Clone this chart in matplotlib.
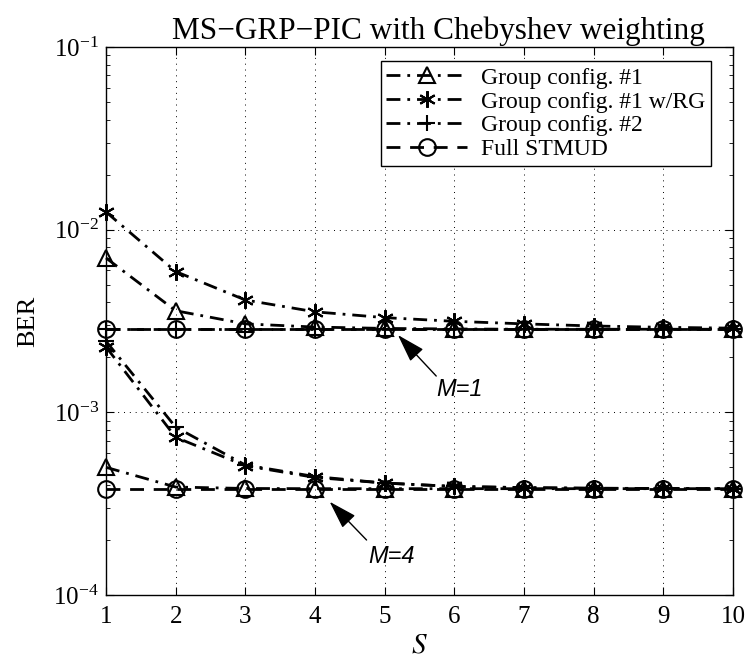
import numpy as np
import matplotlib.pyplot as plt

S = np.arange(1, 11)

# M = 1
full_m1 = [2.85e-3] * 10
g1_m1 = [7.0e-3, 3.6e-3, 3.05e-3, 2.93e-3, 2.88e-3, 2.86e-3, 2.85e-3, 2.85e-3, 2.85e-3, 2.85e-3]
g1rg_m1 = [1.25e-2, 5.9e-3, 4.12e-3, 3.55e-3, 3.3e-3, 3.15e-3, 3.05e-3, 2.97e-3, 2.92e-3, 2.89e-3]
g2_m1 = [2.85e-3] * 10

# M = 4
full_m4 = [3.82e-4] * 10
g1_m4 = [5.0e-4, 3.9e-4, 3.83e-4, 3.82e-4, 3.82e-4, 3.82e-4, 3.82e-4, 3.82e-4, 3.82e-4, 3.82e-4]
g1rg_m4 = [2.28e-3, 7.3e-4, 5.1e-4, 4.4e-4, 4.1e-4, 3.93e-4, 3.87e-4, 3.84e-4, 3.83e-4, 3.82e-4]
g2_m4 = [2.45e-3, 8.3e-4, 5.15e-4, 4.45e-4, 4.1e-4, 3.93e-4, 3.87e-4, 3.84e-4, 3.83e-4, 3.82e-4]

labels = ['Group config. #1', 'Group config. #1 w/RG', 'Group config. #2', 'Full STMUD']

plt.rcParams['font.family'] = 'Liberation Serif'
plt.rcParams['mathtext.fontset'] = 'stix'

fig = plt.figure(figsize=(7.46, 6.62), dpi=100)
ax = fig.add_axes([0.1421, 0.1012, 0.8405, 0.8278])

mk = dict(color='k', lw=2.0, ms=12, mfc='none', mew=1.5, clip_on=False)
dd = (0, (5, 2.5, 1, 2.5))
dash = (0, (5, 3.5))
star = (6, 2, 0)
ax.plot(S, g1_m1, linestyle=dd, marker='^', label=labels[0], **mk)
ax.plot(S, g1rg_m1, linestyle=dd, marker=star, label=labels[1], **mk)
ax.plot(S, g2_m1, linestyle=dd, marker='+', label=labels[2], **mk)
ax.plot(S, full_m1, linestyle=dash, marker='o', label=labels[3], **mk)

ax.plot(S, g1_m4, linestyle=dd, marker='^', **mk)
ax.plot(S, g1rg_m4, linestyle=dd, marker=star, **mk)
ax.plot(S, g2_m4, linestyle=dd, marker='+', **mk)
ax.plot(S, full_m4, linestyle=dash, marker='o', **mk)

ax.set_yscale('log')
ax.set_xlim(1, 10)
ax.set_ylim(1e-4, 1e-1)
ax.set_xticks(S)
ax.grid(True, which='major', linestyle=(0, (1, 5)), color='k', lw=0.7)
ax.tick_params(which='both', direction='in', top=True, right=True, labelsize=18)
ax.tick_params(which='major', length=6, pad=5)
ax.tick_params(axis='x', which='major', pad=8)
ax.tick_params(which='minor', length=3)
for sp in ax.spines.values():
    sp.set_linewidth(1.0)

ax.set_xlabel('$S$', fontsize=21, labelpad=3)
ax.set_ylabel('BER', fontsize=19, labelpad=10)
ax.set_title('MS\u2212GRP\u2212PIC with Chebyshev weighting', fontsize=22.5, pad=6, x=0.53)

leg = ax.legend(loc='upper right', fontsize=17, frameon=True, fancybox=False,
                edgecolor='k', handlelength=3.4, borderpad=0.25, labelspacing=0.1,
                handletextpad=0.6, borderaxespad=0, bbox_to_anchor=(0.965, 0.974),
                framealpha=1)
leg.get_frame().set_linewidth(1.0)

arr = dict(arrowstyle='-|>,head_length=0.8,head_width=0.25', color='k', lw=1.0,
           mutation_scale=22, shrinkA=0, shrinkB=0)
ax.annotate('', xy=(5.19, 2.65e-3), xytext=(5.74, 1.58e-3), arrowprops=arr)
ax.text(6.08, 1.33e-3, 'M=1', fontsize=17, style='italic', family='Liberation Sans',
        ha='center', va='center')
ax.annotate('', xy=(4.21, 3.24e-4), xytext=(4.74, 2.0e-4), arrowprops=arr)
ax.text(5.1, 1.62e-4, 'M=4', fontsize=17, style='italic', family='Liberation Sans',
        ha='center', va='center')

fig.savefig('out.png', dpi=100)
